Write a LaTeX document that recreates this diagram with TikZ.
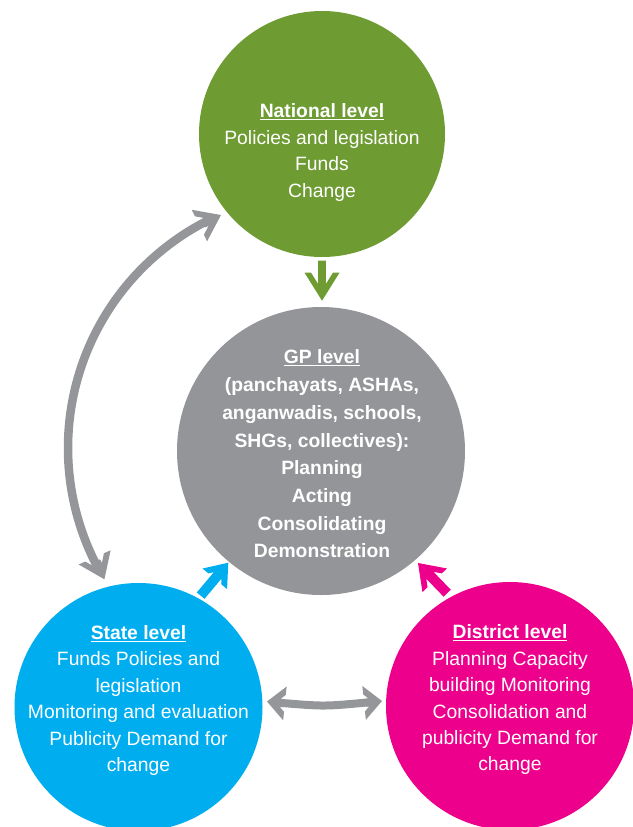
\documentclass[tikz,border=0pt]{standalone}
\usepackage{fontspec}
\setmainfont{Liberation Sans}
\definecolor{natgreen}{HTML}{6E9C33}
\definecolor{gpgray}{HTML}{939598}
\definecolor{arrgray}{HTML}{95969A}
\definecolor{stblue}{HTML}{00AEEF}
\definecolor{dimag}{HTML}{EC008C}
% #1 tip, #2 angle, #3 total length, #4 head length, #5 head half width, #6 chevron depth, #7 shaft half width, #8 colour
\newcommand\chevarrow[8]{%
  \begin{scope}[shift={#1},rotate=#2]
    \fill[#8] (0,0) -- ({-#4},{#5}) -- ({-#4},{#5*(#4-#6)/#4}) -- ({-#6-#7*#4/#5},{#7})
      -- ({-#3},{#7}) -- ({-#3},{-#7}) -- ({-#6-#7*#4/#5},{-#7})
      -- ({-#4},{-#5*(#4-#6)/#4}) -- ({-#4},{-#5}) -- cycle;
  \end{scope}}
\begin{document}
\begin{tikzpicture}[x=1pt,y=-1pt,
  levelcircle/.style={circle,inner sep=0pt,draw=none},
  leveltext/.style={text=white,align=center,inner sep=0pt,font=\fontsize{19.3}{26.4}\selectfont},
  gptext/.style={text=white,align=center,inner sep=0pt,font=\fontsize{19.3}{27.7}\selectfont\bfseries}]
\useasboundingbox (0,0) rectangle (632,827);
% circles
\node[levelcircle,fill=natgreen,minimum size=246pt] (nat) at (322,134) {};
\node[levelcircle,fill=gpgray,minimum size=288pt] (gp) at (321,451) {};
\node[levelcircle,fill=stblue,minimum size=248pt] (st) at (138.5,707) {};
\node[levelcircle,fill=dimag,minimum size=248pt] (di) at (510,706) {};
% texts
\node[leveltext] (natT) at (322,152.5) {\textbf{\underline{National level}}\\Policies and legislation\\Funds\\Change};
\node[gptext] (gpT) at (322,454) {\underline{GP level}\\(panchayats, ASHAs,\\anganwadis, schools,\\SHGs, collectives):\\Planning\\Acting\\Consolidating\\Demonstration};
\node[leveltext] (stT) at (138.5,700.5) {\textbf{\underline{State level}}\\Funds Policies and\\legislation\\Monitoring and evaluation\\Publicity Demand for\\change};
\node[leveltext] (diT) at (510,700) {\textbf{\underline{District level}}\\Planning Capacity\\building Monitoring\\Consolidation and\\publicity Demand for\\change};
% arrow tips
\coordinate (natTip) at (322,300.7);
\coordinate (stTip) at (228.3,562.7);
\coordinate (diTip) at (418,563);
\coordinate (arcC) at (323,448);
\coordinate (arcBot) at (104.4,579.3);
\coordinate (arcTop) at (221,215);
\coordinate (hL) at (267,701.5);
\coordinate (hR) at (382,701);
% National -> GP
\chevarrow{(natTip)}{-90}{40}{28}{17.5}{10.5}{3.8}{natgreen}
% State -> GP
\chevarrow{(stTip)}{50}{43}{21}{16}{10}{5}{stblue}
% District -> GP
\chevarrow{(diTip)}{134}{42}{24}{17}{10}{5}{dimag}
% State <-> National curved arrow
\draw[arrgray,line width=8.5pt] (arcC) ++(152.2:255) arc[start angle=152.2,end angle=243.2,radius=255];
\chevarrow{(arcBot)}{-66}{20}{24}{17.5}{10}{4.25}{arrgray}
\chevarrow{(arcTop)}{26}{20}{24}{17.5}{10}{4.25}{arrgray}
% State <-> District arrow
\draw[arrgray,line width=8pt] (280,702.8) .. controls (324.5,706.5) .. (369,702.3);
\chevarrow{(hL)}{174}{16}{18}{17}{9}{4}{arrgray}
\chevarrow{(hR)}{6}{16}{18}{17}{9}{4}{arrgray}
\end{tikzpicture}
\end{document}
